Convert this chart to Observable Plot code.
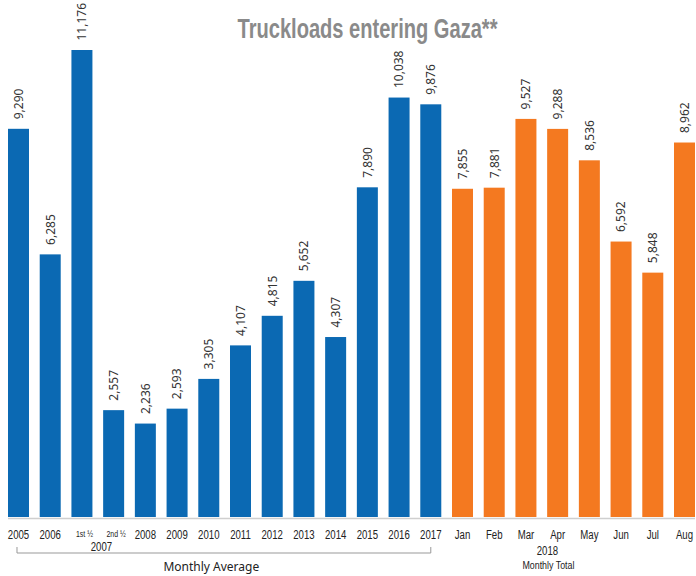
<!DOCTYPE html>
<html>
<head>
<meta charset="utf-8">
<script src="https://cdn.jsdelivr.net/npm/d3@7"></script>
<script src="https://cdn.jsdelivr.net/npm/@observablehq/plot@0.6"></script>
<style>
  html, body { margin: 0; padding: 0; background: #fff; }
  #chart svg { display: block; }
</style>
</head>
<body>
<div id="chart"></div>
<script>
const categories = ["2005","2006","2007 1st ½","2007 2nd ½","2008","2009","2010","2011","2012","2013","2014","2015","2016","2017",
  "Jan 2018","Feb 2018","Mar 2018","Apr 2018","May 2018","Jun 2018","Jul 2018","Aug 2018"];
const tickLabels = ["2005","2006","1st ½","2nd ½","2008","2009","2010","2011","2012","2013","2014","2015","2016","2017",
  "Jan","Feb","Mar","Apr","May","Jun","Jul","Aug"];
const values = [9290, 6285, 11176, 2557, 2236, 2593, 3305, 4107, 4815, 5652, 4307, 7890, 10038, 9876,
  7855, 7881, 9527, 9288, 8536, 6592, 5848, 8962];
const groups = ["Monthly Average","Monthly Average","Monthly Average","Monthly Average","Monthly Average","Monthly Average","Monthly Average",
  "Monthly Average","Monthly Average","Monthly Average","Monthly Average","Monthly Average","Monthly Average","Monthly Average",
  "Monthly Total","Monthly Total","Monthly Total","Monthly Total","Monthly Total","Monthly Total","Monthly Total","Monthly Total"];
const groupColors = ["#0b69b3", "#f47920"];
const title = "Truckloads entering Gaza**";

const data = categories.map((c, i) => ({cat: c, label: tickLabels[i], value: values[i], group: groups[i],
  small: tickLabels[i].includes("½")}));

const narrow = "Liberation Sans, sans-serif";   // condensed afterwards
const titleFont = "'Liberation Sans', Arial, sans-serif";
const regular = "'Noto Sans', 'Liberation Sans', sans-serif";

const plot = Plot.plot({
  width: 696,
  height: 576,
  marginLeft: 8,
  marginRight: 1,
  marginTop: 50,
  marginBottom: 59,
  style: {background: "#fff", fontFamily: regular},
  x: {domain: categories, paddingInner: 0.338, paddingOuter: 0, round: false, axis: null},
  y: {domain: [0, 11176], axis: null},
  color: {domain: ["Monthly Average", "Monthly Total"], range: groupColors},
  marks: [
    Plot.barY(data, {x: "cat", y: "value", fill: "group"}),
    Plot.ruleY([0], {stroke: "#cfcfcf", strokeWidth: 1.5, dy: 1}),
    Plot.text(data, {x: "cat", y: "value", text: d => d3.format(",")(d.value), rotate: -90,
      textAnchor: "start", lineAnchor: "middle", dy: -10, fontSize: 12, fill: "#333"}),
    Plot.text(data.filter(d => !d.small), {x: "cat", text: "label", frameAnchor: "bottom", lineAnchor: "bottom",
      dx: -0.5, dy: 21, fontSize: 12.5, fill: "#222", fontFamily: narrow}),
    Plot.text(data.filter(d => d.small), {x: "cat", text: "label", frameAnchor: "bottom", lineAnchor: "bottom",
      dx: 2, dy: 19, fontSize: 9, fill: "#222", fontFamily: narrow}),
    Plot.text(["2007"], {x: () => "2007 1st ½", text: d => d, frameAnchor: "bottom", lineAnchor: "bottom",
      dx: 19, dy: 33, fontSize: 12.5, fill: "#222", fontFamily: narrow}),
    Plot.text(["2018"], {x: () => "Mar 2018", text: d => d, frameAnchor: "bottom", lineAnchor: "bottom",
      dx: 21, dy: 37, fontSize: 12.5, fill: "#222", fontFamily: narrow}),
    Plot.text(["Monthly Total"], {x: () => "Mar 2018", text: d => d, frameAnchor: "bottom", lineAnchor: "bottom",
      dx: 22, dy: 51, fontSize: 11.5, fill: "#222", fontFamily: narrow}),
    Plot.text(["Monthly Average"], {x: () => "2010", text: d => d, frameAnchor: "bottom", lineAnchor: "bottom",
      dx: 2, dy: 53, fontSize: 12, fill: "#222"}),
    Plot.text([title], {frameAnchor: "top-left", text: d => d, textAnchor: "middle", lineAnchor: "bottom",
      dx: 359, dy: -13, fontSize: 27, fontWeight: "bold", fill: "#8a8a8a", fontFamily: titleFont})
  ]
});

// bracket under the "Monthly Average" years, positioned with the plot's own x scale
const xs = plot.scale("x");
const bw = xs.bandwidth;
const firstCat = categories[0];
const lastAvg = categories[groups.lastIndexOf("Monthly Average")];
const xa = xs.apply(firstCat) + bw / 2 - 1.5;
const xb = xs.apply(lastAvg) + bw / 2;
const baseY = plot.scale("y").apply(0);
d3.select(plot).append("path")
  .attr("d", `M${xa},${baseY + 30}V${baseY + 36}H${xb}V${baseY + 30}`)
  .attr("fill", "none").attr("stroke", "#999").attr("stroke-width", 1);

document.getElementById("chart").appendChild(plot);

// compress title to the condensed width of the original
d3.select(plot).selectAll("text").filter(function() { return this.textContent === title; })
  .attr("textLength", 260).attr("lengthAdjust", "spacingAndGlyphs");

// condensed look for axis-style labels
d3.select(plot).selectAll(`g[font-family="${narrow}"] text`).each(function() {
  const w = this.getComputedTextLength();
  if (w > 0) d3.select(this).attr("textLength", w * 0.77).attr("lengthAdjust", "spacingAndGlyphs");
});
</script>
</body>
</html>
